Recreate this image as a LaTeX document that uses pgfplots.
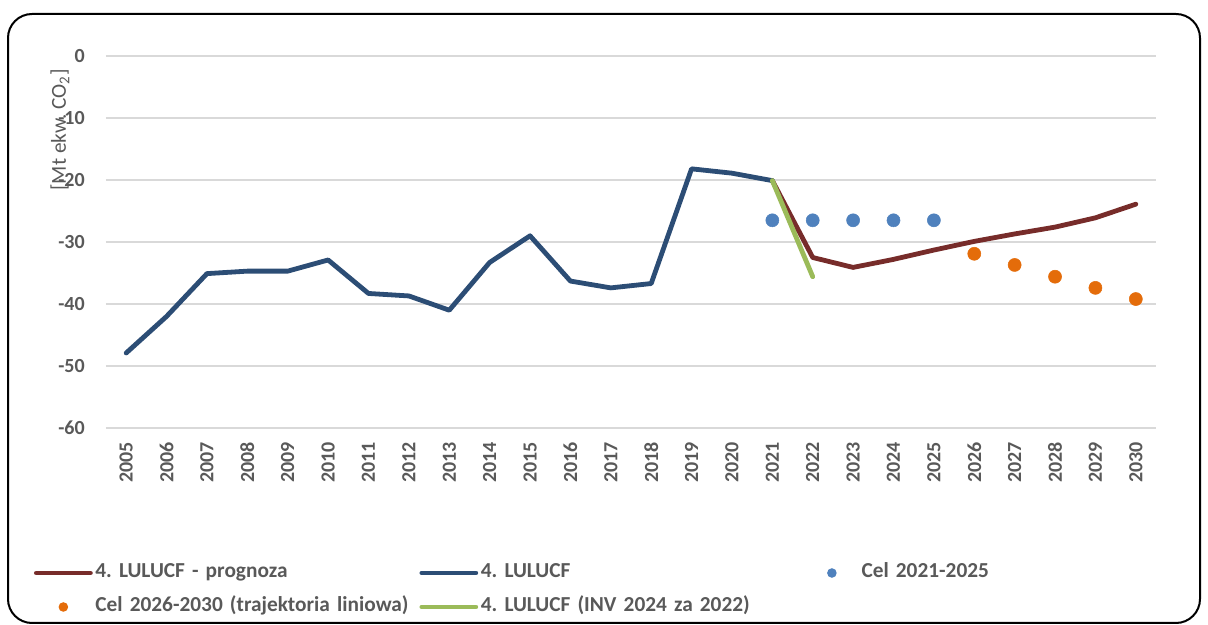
\documentclass[border=0pt]{standalone}
\usepackage{fontspec}
\setmainfont{Carlito}
\usepackage{pgfplots}
\pgfplotsset{compat=1.18}
\definecolor{txt}{HTML}{595959}
\definecolor{gridc}{HTML}{D9D9D9}
\definecolor{brownc}{HTML}{772C2A}
\definecolor{bluec}{HTML}{2C4D75}
\definecolor{greenc}{HTML}{9BBB59}
\definecolor{dotblue}{HTML}{4F81BD}
\definecolor{dotorange}{HTML}{E46C0A}
\pgfplotsset{
  lineleg/.style={legend image code/.code={\draw[##1] (0pt,0pt) -- (40.5pt,0pt);}},
  dotleg/.style={legend image code/.code={\path[draw=none, fill=none] (0pt,0pt) -- (40.5pt,0pt); \fill[#1, draw=none] (20.25pt,0pt) circle (3.6pt);}},
}
\begin{document}
\frenchspacing
\begin{tikzpicture}
\useasboundingbox (0,0) rectangle (906pt,468.75pt);
\draw[line width=1.5pt, rounded corners=18pt] (6pt,1.5pt) rectangle (900pt,458.25pt);
\node[rotate=90, text=txt, font=\fontsize{16}{19}\selectfont] at (45pt,371.25pt) {[Mt ekw. CO\textsubscript{2}]};
\begin{axis}[
  at={(79.5pt,147.75pt)}, anchor=south west,
  scale only axis, width=787.5pt, height=279pt,
  xmin=2004.5, xmax=2030.5, ymin=-60, ymax=0,
  clip=false,
  axis line style={draw=none},
  major tick length=0pt,
  ymajorgrids, grid style={color=gridc, line width=1.1pt},
  xtick={2005,2006,2007,2008,2009,2010,2011,2012,2013,2014,2015,2016,2017,2018,2019,2020,2021,2022,2023,2024,2025,2026,2027,2028,2029,2030},
  xticklabels={2005,2006,2007,2008,2009,2010,2011,2012,2013,2014,2015,2016,2017,2018,2019,2020,2021,2022,2023,2024,2025,2026,2027,2028,2029,2030},
  ytick={-60,-50,-40,-30,-20,-10,0},
  yticklabels={-60,-50,-40,-30,-20,-10,0},
  tick label style={font=\fontsize{15}{18}\selectfont\bfseries, text=txt, inner sep=0pt},
  xticklabel style={yshift=-10.5pt, rotate=90, anchor=east},
  yticklabel style={xshift=-15.75pt, anchor=east},
  legend columns=3,
  legend cell align=left,
  legend style={draw=none, fill=none, at={(-0.0686,-0.3629)}, anchor=north west,
    inner sep=0pt, outer sep=0pt, column sep=0pt, row sep=10.5pt,
    nodes={text width=241pt, align=left, inner xsep=2pt, inner ysep=0pt,
      text height=11pt, text depth=4pt,
      font=\fontsize{16}{19}\selectfont\bfseries\frenchspacing, text=txt}},
]
\addplot[brownc, line width=3.6pt, line join=round, line cap=round, lineleg]
  coordinates {(2021,-20.1)(2022,-32.5)(2023,-34.1)(2024,-32.8)(2025,-31.3)(2026,-29.9)(2027,-28.7)(2028,-27.6)(2029,-26.1)(2030,-23.9)};
\addlegendentry{4. LULUCF - prognoza}
\addplot[bluec, line width=3.6pt, line join=round, line cap=round, lineleg]
  coordinates {(2005,-47.9)(2006,-42.0)(2007,-35.1)(2008,-34.7)(2009,-34.7)(2010,-32.9)(2011,-38.3)(2012,-38.7)(2013,-41.0)(2014,-33.3)(2015,-29.0)(2016,-36.3)(2017,-37.4)(2018,-36.7)(2019,-18.2)(2020,-18.9)(2021,-20.1)};
\addlegendentry{4. LULUCF}
\addplot[only marks, mark=*, mark size=4.9pt, color=dotblue, mark options={draw=none, fill=dotblue}, dotleg=dotblue]
  coordinates {(2021,-26.5)(2022,-26.5)(2023,-26.5)(2024,-26.5)(2025,-26.5)};
\addlegendentry{Cel 2021-2025}
\addplot[only marks, mark=*, mark size=4.9pt, color=dotorange, mark options={draw=none, fill=dotorange}, dotleg=dotorange]
  coordinates {(2026,-31.9)(2027,-33.7)(2028,-35.6)(2029,-37.4)(2030,-39.2)};
\addlegendentry{Cel 2026-2030 (trajektoria liniowa)}
\addplot[greenc, line width=3.6pt, line join=round, line cap=round, lineleg]
  coordinates {(2021,-20.1)(2022,-35.6)};
\addlegendentry{4. LULUCF (INV 2024 za 2022)}
\end{axis}
\end{tikzpicture}
\end{document}
